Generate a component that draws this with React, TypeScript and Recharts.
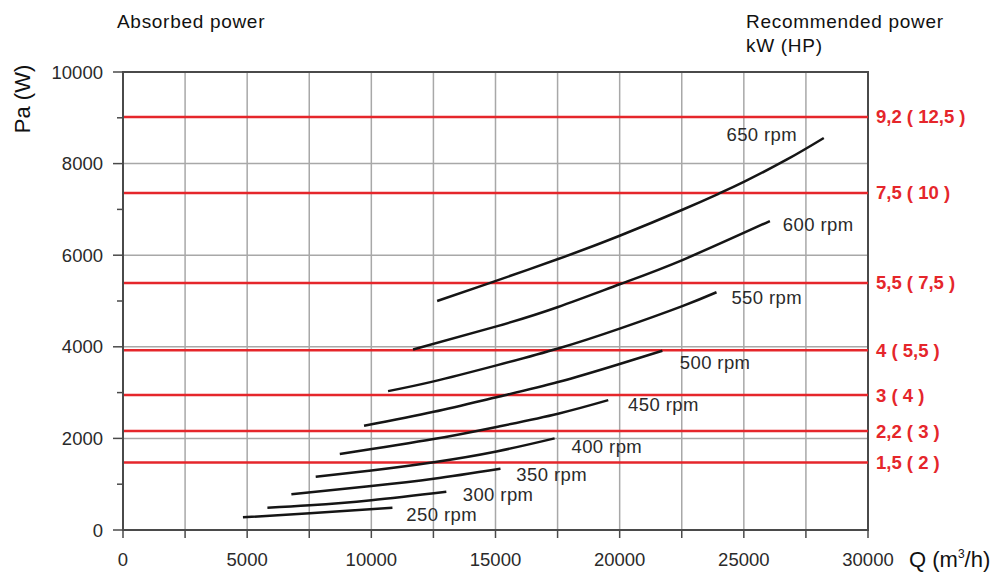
import React from 'react';
import {
  LineChart,
  Line,
  XAxis,
  YAxis,
  CartesianGrid,
  ReferenceLine,
  ReferenceArea,
  ReferenceDot,
} from 'recharts';

// ---------- data ----------
const rpmNames = ['250 rpm', '300 rpm', '350 rpm', '400 rpm', '450 rpm', '500 rpm', '550 rpm', '600 rpm', '650 rpm'];

// [Q (m3/h), Pa]
const curve250 = [[4830, 276], [7520, 364], [10850, 487]];
const curve300 = [[5815, 487], [7520, 540], [10000, 650], [13020, 835]];
const curve350 = [[6780, 780], [10000, 960], [12510, 1120], [15200, 1340]];
const curve400 = [[7760, 1163], [10000, 1300], [12510, 1480], [15040, 1715], [17380, 2000]];
const curve450 = [[8730, 1658], [12510, 1985], [15040, 2250], [17520, 2540], [19540, 2835]];
const curve500 = [[9706, 2275], [12510, 2580], [15040, 2900], [17520, 3230], [20000, 3625], [21720, 3915]];
const curve550 = [[10673, 3032], [12510, 3245], [15040, 3595], [17520, 3963], [20000, 4398], [22550, 4895], [23900, 5191]];
const curve600 = [[11680, 3941], [15040, 4445], [17520, 4870], [20000, 5365], [22550, 5900], [26050, 6746]];
const curve650 = [[12650, 5001], [14640, 5369], [17520, 5916], [20000, 6424], [22550, 6998], [24030, 7353], [25040, 7611], [26720, 8085], [28220, 8560]];
const curves = [curve250, curve300, curve350, curve400, curve450, curve500, curve550, curve600, curve650];

// label anchor (left edge, middle) of each rpm label in data units
const labelQ = [11410, 13680, 15840, 18060, 20340, 22420, 24500, 26570, 24300];
const labelPa = [349, 785, 1221, 1832, 2748, 3664, 5082, 6670, 8640];

// recommended power lines
const powerValues = [9020, 7360, 5395, 3925, 2945, 2160, 1475];
const powerLabels = ['9,2 ( 12,5 )', '7,5 ( 10 )', '5,5 ( 7,5 )', '4 ( 5,5 )', '3 ( 4 )', '2,2 ( 3 )', '1,5 ( 2 )'];

const xTicks = [0, 2500, 5000, 7500, 10000, 12500, 15000, 17500, 20000, 22500, 25000, 27500, 30000];
const yTicks = [0, 1000, 2000, 3000, 4000, 5000, 6000, 7000, 8000, 9000, 10000];
const xGrid = [2500, 5000, 7500, 10000, 12500, 15000, 17500, 20000, 22500, 25000, 27500];
const yGrid = [2000, 4000, 6000, 8000];

// ---------- styles ----------
const FONT = '"Liberation Sans", Arial, Helvetica, sans-serif';
const RED = '#e5262b';
const AXIS = '#4a4a4a';
const GRID = '#a8a8a8';
const TEXT = '#2a2a2a';

const Y_TICK_SIZE = 10;
const Y_TICK_MARGIN = 10;
const X_TICK_SIZE = 8;
const X_TICK_MARGIN = 4;

const YTick = (props: any) => {
  const { x, y, payload } = props;
  const v = payload.value;
  const major = v % 2000 === 0;
  const ax = x + Y_TICK_SIZE + Y_TICK_MARGIN;
  return (
    <g>
      <line x1={ax - (major ? 10 : 6)} x2={ax} y1={y} y2={y} stroke={AXIS} strokeWidth={1.5} />
      {major && (
        <text x={x} y={y} textAnchor="end" dominantBaseline="central" fontSize={18.5} fill={TEXT} fontFamily={FONT}>
          {v}
        </text>
      )}
    </g>
  );
};

const XTick = (props: any) => {
  const { x, y, payload } = props;
  const v = payload.value;
  const ay = y - X_TICK_SIZE - X_TICK_MARGIN;
  return (
    <g>
      <line x1={x} x2={x} y1={ay} y2={ay + 8} stroke={AXIS} strokeWidth={1.5} />
      {v % 5000 === 0 && (
        <text x={x} y={ay + 36} textAnchor="middle" fontSize={18.5} fill={TEXT} fontFamily={FONT}>
          {v}
        </text>
      )}
    </g>
  );
};

const makeLabelShape = (text: string) => (props: any) => (
  <text
    x={props.cx}
    y={props.cy}
    dominantBaseline="central"
    fontSize={18.5}
    letterSpacing={0.4}
    fill={TEXT}
    fontFamily={FONT}
  >
    {text}
  </text>
);

export default function App() {
  return (
    <div
      style={{
        position: 'absolute',
        left: 0,
        top: 0,
        width: 999,
        height: 572,
        background: '#fff',
        fontFamily: FONT,
        overflow: 'hidden',
      }}
    >
      <LineChart width={999} height={572} margin={{ top: 72, right: 131, bottom: 0, left: 0 }}>
        <CartesianGrid
          horizontalValues={yGrid}
          verticalValues={xGrid}
          stroke={GRID}
          strokeWidth={1.5}
        />
        <XAxis
          type="number"
          dataKey="q"
          domain={[0, 30000]}
          ticks={xTicks}
          interval={0}
          height={42}
          tickSize={X_TICK_SIZE}
          tickMargin={X_TICK_MARGIN}
          tickLine={false}
          tick={<XTick />}
          axisLine={{ stroke: AXIS, strokeWidth: 2 }}
          allowDataOverflow
        />
        <YAxis
          type="number"
          domain={[0, 10000]}
          ticks={yTicks}
          interval={0}
          width={123}
          tickSize={Y_TICK_SIZE}
          tickMargin={Y_TICK_MARGIN}
          tickLine={false}
          tick={<YTick />}
          axisLine={{ stroke: AXIS, strokeWidth: 2 }}
          allowDataOverflow
        />
        {powerValues.map((v, i) => (
          <ReferenceLine
            key={'p' + i}
            y={v}
            stroke={RED}
            strokeWidth={2.5}
            label={{
              value: powerLabels[i],
              position: 'right',
              offset: 8,
              fill: RED,
              fontSize: 18.5,
              fontWeight: 'bold',
              fontFamily: FONT,
            }}
          />
        ))}
        <ReferenceArea x1={0} x2={30000} y1={0} y2={10000} fill="none" stroke={AXIS} strokeWidth={2} fillOpacity={0} />
        {curves.map((c, i) => (
          <Line
            key={'c' + i}
            data={c.map(([q, pa]) => ({ q, pa }))}
            dataKey="pa"
            type="natural"
            stroke="#151515"
            strokeWidth={2.5}
            dot={false}
            activeDot={false}
            isAnimationActive={false}
          />
        ))}
        {rpmNames.map((name, i) => (
          <ReferenceDot
            key={'l' + i}
            x={labelQ[i]}
            y={labelPa[i]}
            r={0}
            shape={makeLabelShape(name)}
          />
        ))}
      </LineChart>
      <svg
        width={999}
        height={572}
        style={{ position: 'absolute', left: 0, top: 0, pointerEvents: 'none' }}
      >
        <text x={117} y={28} fontSize={19} letterSpacing={0.7} fill="#111" fontFamily={FONT}>
          Absorbed power
        </text>
        <text x={746} y={28} fontSize={19} letterSpacing={0.7} fill="#111" fontFamily={FONT}>
          Recommended power
        </text>
        <text x={746} y={52} fontSize={19} letterSpacing={0.7} fill="#111" fontFamily={FONT}>
          kW (HP)
        </text>
        <text
          x={0}
          y={0}
          transform="translate(30,99) rotate(-90)"
          textAnchor="middle"
          fontSize={22}
          fill="#111"
          fontFamily={FONT}
        >
          Pa (W)
        </text>
        <text x={909} y={567} fontSize={22} fill="#111" fontFamily={FONT}>
          Q (m<tspan fontSize={12} dy={-9}>3</tspan>
          <tspan dy={9}>/h)</tspan>
        </text>
      </svg>
    </div>
  );
}
